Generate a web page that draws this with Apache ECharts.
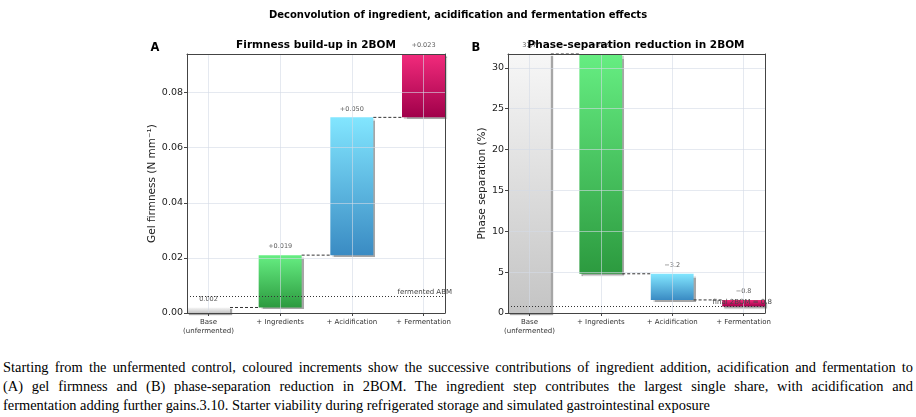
<!DOCTYPE html>
<html>
<head>
<meta charset="utf-8">
<script src="https://cdn.jsdelivr.net/npm/echarts@6.0.0/dist/echarts.min.js"></script>
<style>
  html, body { margin: 0; padding: 0; background: #fff; }
  #chart { position: absolute; left: 0; top: 0; width: 916px; height: 350px; }
  #caption { position: absolute; left: 3px; top: 358px; width: 910px;
    font-family: 'Times New Roman', 'Liberation Serif', serif; font-size: 14.4px;
    line-height: 19px; color: #000; }
  #caption .j { text-align: justify; text-align-last: justify; white-space: nowrap; }
</style>
</head>
<body>
<div id="chart"></div>
<div id="caption">
  <div class="j">Starting from the unfermented control, coloured increments show the successive contributions of ingredient addition, acidification and fermentation to</div>
  <div class="j">(A) gel firmness and (B) phase-separation reduction in 2BOM. The ingredient step contributes the largest single share, with acidification and</div>
  <div>fermentation adding further gains.3.10. Starter viability during refrigerated storage and simulated gastrointestinal exposure</div>
</div>
<script>
// 步骤名称
var stepNames = ['Base\n(unfermented)', '+ Ingredients', '+ Acidification', '+ Fermentation'];
var stepPos = [0, 1, 2, 3];

// A 凝胶硬度 (N mm-1)
var firmSteps = [0.002, 0.019, 0.050, 0.023];
var firmLabels = ['0.002', '+0.019', '+0.050', '+0.023'];
var firmTicks = [0, 0.02, 0.04, 0.06, 0.08];
var firmMax = 0.094;
var firmRef = 0.006;

// B 相分离 (%)
var phaseSteps = [31.7, -26.9, -3.2, -0.8];
var phaseLabels = ['31.7', '\u221226.9', '\u22123.2', '\u22120.8'];
var phaseTicks = [0, 5, 10, 15, 20, 25, 30];
var phaseMax = 31.7;
var phaseRef = 0.8;

var stepColors = [
  ['#f7f7f7', '#c4c4c4'],
  ['#66ee82', '#2c9a3f'],
  ['#82e6ff', '#3a8bc3'],
  ['#f22b7c', '#a0004a']
];
var gridLine = 'rgba(212,219,230,0.6)';
var halfW = 0.3;

// 累计起止
function buildSteps(steps) {
  var run = 0, out = [];
  for (var i = 0; i < steps.length; i++) {
    var start = i === 0 ? 0 : run;
    run = i === 0 ? steps[0] : run + steps[i];
    out.push([stepPos[i], start, run]);
  }
  return out;
}

function renderStep(params, api) {
  var i = api.value(0), a = api.value(1), b = api.value(2);
  var p0 = api.coord([i - halfW, Math.max(a, b)]);
  var p1 = api.coord([i + halfW, Math.min(a, b)]);
  var c = stepColors[params.dataIndex];
  var kids = [{
    type: 'rect',
    shape: { x: p0[0], y: p0[1], width: p1[0] - p0[0], height: p1[1] - p0[1] },
    style: {
      fill: new echarts.graphic.LinearGradient(0, 0, 0, 1, [
        { offset: 0, color: c[0] }, { offset: 1, color: c[1] }
      ]),
      shadowColor: 'rgba(0,0,0,0.35)', shadowOffsetX: 2, shadowOffsetY: 2, shadowBlur: 1
    }
  }];
  if (params.dataIndex < stepNames.length - 1) {
    var l0 = api.coord([i + halfW, b]);
    var l1 = api.coord([i + 1 - halfW, b]);
    kids.push({
      type: 'line',
      shape: { x1: l0[0], y1: l0[1], x2: l1[0], y2: l1[1] },
      style: { stroke: '#333', lineWidth: 1, lineDash: [3, 2] }
    });
  }
  return { type: 'group', children: kids };
}

function labelData(cum, labels) {
  return cum.map(function (d, k) {
    return { value: [d[0], Math.max(d[1], d[2])], name: labels[k] };
  });
}

function xAxes(g) {
  return [{
    type: 'value', gridIndex: g, min: -0.3, max: 3.3, z: 5,
    axisLine: { show: true, onZero: false, lineStyle: { color: '#444', width: 1 } },
    axisTick: { show: true, customValues: stepPos, length: 3, lineStyle: { color: '#444' } },
    axisLabel: {
      customValues: stepPos, fontSize: 7, color: '#333', margin: 5, lineHeight: 9,
      fontFamily: 'DejaVu Sans',
      formatter: function (v) { return stepNames[Math.round(v)]; }
    },
    splitLine: { show: true, lineStyle: { color: gridLine, width: 1 } }
  }, {
    type: 'value', gridIndex: g, min: -0.3, max: 3.3, position: 'top', z: 6,
    axisLine: { show: true, onZero: false, lineStyle: { color: '#444', width: 1 } },
    axisTick: { show: false }, axisLabel: { show: false }, splitLine: { show: false }
  }];
}

function yAxes(g, max, ticks, name, gap, fmt) {
  return [{
    type: 'value', gridIndex: g, min: 0, max: max, z: 5,
    name: name, nameLocation: 'middle', nameGap: gap, nameRotate: 90,
    nameTextStyle: { fontSize: 10.5, color: '#222', fontFamily: 'DejaVu Sans' },
    axisLine: { show: true, onZero: false, lineStyle: { color: '#444', width: 1 } },
    axisTick: { show: true, customValues: ticks, length: 3, lineStyle: { color: '#444' } },
    axisLabel: {
      customValues: ticks, fontSize: 9.5, color: '#222', margin: 4, fontFamily: 'DejaVu Sans',
      formatter: fmt
    },
    splitLine: { show: true, lineStyle: { color: gridLine, width: 1 } }
  }, {
    type: 'value', gridIndex: g, min: 0, max: max, position: 'right', z: 6,
    axisLine: { show: true, onZero: false, lineStyle: { color: '#444', width: 1 } },
    axisTick: { show: false }, axisLabel: { show: false }, splitLine: { show: false }
  }];
}

function refLine(v, text) {
  return {
    silent: true, symbol: ['none', 'none'], precision: 4,
    lineStyle: { type: [1, 2], color: '#333', width: 1.1 },
    label: {
      show: true, position: 'insideEndTop', formatter: text, distance: [-7, 1],
      fontSize: 7, color: '#444', fontFamily: 'DejaVu Sans'
    },
    data: [{ yAxis: v }]
  };
}

var firmCum = buildSteps(firmSteps);
var phaseCum = buildSteps(phaseSteps);

var chart = echarts.init(document.getElementById('chart'), null, { renderer: 'canvas' });

chart.setOption({
  animation: false,
  backgroundColor: '#fff',
  textStyle: { fontFamily: 'DejaVu Sans' },
  grid: [
    { left: 187, top: 54, width: 258, height: 259 },
    { left: 508, top: 54, width: 257, height: 259 }
  ],
  xAxis: xAxes(0).concat(xAxes(1)),
  yAxis: yAxes(0, firmMax, firmTicks, 'Gel firmness (N mm\u207B\u00B9)', 29,
      function (v) { return v.toFixed(2); })
    .concat(yAxes(1, phaseMax, phaseTicks, 'Phase separation (%)', 20,
      function (v) { return String(v); })),
  graphic: [
    { type: 'text', x: 458, y: 15, z: 100, style: { text: 'Deconvolution of ingredient, acidification and fermentation effects',
      fontSize: 10, fontWeight: 'bold', fontFamily: 'DejaVu Sans', fill: '#000', align: 'center', verticalAlign: 'middle', textAlign: 'center', textVerticalAlign: 'middle' } },
    { type: 'text', x: 316, y: 45, z: 100, style: { text: 'Firmness build-up in 2BOM',
      fontSize: 10.5, fontWeight: 'bold', fontFamily: 'DejaVu Sans', fill: '#000', align: 'center', verticalAlign: 'middle', textAlign: 'center', textVerticalAlign: 'middle' } },
    { type: 'text', x: 636, y: 45, z: 100, style: { text: 'Phase-separation reduction in 2BOM',
      fontSize: 10.5, fontWeight: 'bold', fontFamily: 'DejaVu Sans', fill: '#000', align: 'center', verticalAlign: 'middle', textAlign: 'center', textVerticalAlign: 'middle' } },
    { type: 'text', x: 155, y: 48, z: 100, style: { text: 'A',
      fontSize: 11.5, fontWeight: 'bold', fontFamily: 'DejaVu Sans', fill: '#000', align: 'center', verticalAlign: 'middle', textAlign: 'center', textVerticalAlign: 'middle' } },
    { type: 'text', x: 476, y: 48, z: 100, style: { text: 'B',
      fontSize: 11.5, fontWeight: 'bold', fontFamily: 'DejaVu Sans', fill: '#000', align: 'center', verticalAlign: 'middle', textAlign: 'center', textVerticalAlign: 'middle' } }
  ],
  series: [
    { type: 'custom', xAxisIndex: 0, yAxisIndex: 0, renderItem: renderStep, data: firmCum, z: 2 },
    { type: 'custom', xAxisIndex: 2, yAxisIndex: 2, renderItem: renderStep, data: phaseCum, z: 2 },
    {
      type: 'scatter', xAxisIndex: 0, yAxisIndex: 0, symbolSize: 0, clip: false, z: 3,
      data: labelData(firmCum, firmLabels),
      label: { show: true, position: 'top', distance: 5, formatter: '{b}', fontSize: 6.5, color: '#333' },
      markLine: refLine(firmRef, 'fermented ABM')
    },
    {
      type: 'scatter', xAxisIndex: 2, yAxisIndex: 2, symbolSize: 0, clip: false, z: 3,
      data: labelData(phaseCum, phaseLabels),
      label: { show: true, position: 'top', distance: 5, formatter: '{b}', fontSize: 6.5, color: '#333' },
      markLine: refLine(phaseRef, 'final 2BOM = 0.8')
    }
  ]
});
</script>
</body>
</html>
